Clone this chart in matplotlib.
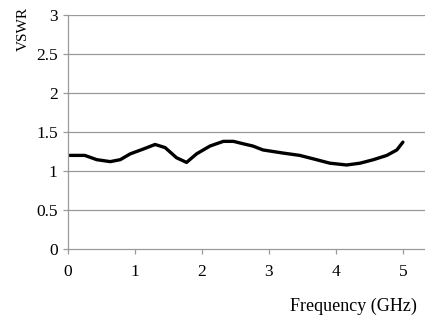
import matplotlib
matplotlib.use('Agg')
import matplotlib.pyplot as plt

# VSWR
freq = [0.03, 0.25, 0.43, 0.63, 0.78, 0.93, 1.12, 1.30, 1.45, 1.62, 1.77,
        1.92, 2.12, 2.32, 2.47, 2.61, 2.76, 2.91, 3.21, 3.46, 3.71, 3.91,
        4.16, 4.36, 4.56, 4.76, 4.91, 5.0]
vswr = [1.20, 1.20, 1.145, 1.12, 1.145, 1.22, 1.28, 1.34, 1.30, 1.17, 1.11,
        1.22, 1.32, 1.38, 1.38, 1.35, 1.32, 1.27, 1.23, 1.20, 1.145, 1.10,
        1.077, 1.10, 1.145, 1.20, 1.27, 1.37]

x_ticks = [0, 1, 2, 3, 4, 5]
y_ticks = [0, 0.5, 1, 1.5, 2, 2.5, 3]
y_labels = ['0', '0.5', '1', '1.5', '2', '2.5', '3']

plt.rcParams['font.family'] = 'Liberation Serif'

fig = plt.figure(figsize=(4.25, 3.2), dpi=100)
ax = fig.add_axes([0.16, 0.222, 0.84, 0.731])

ax.plot(freq, vswr, color='black', linewidth=2.4, solid_capstyle='round',
        solid_joinstyle='round')

ax.set_xlim(0, 5.33)
ax.set_ylim(0, 3)
ax.set_xticks(x_ticks)
ax.set_yticks(y_ticks)
ax.set_yticklabels(y_labels)

for y in y_ticks[1:]:
    ax.axhline(y, color='#9a9a9a', linewidth=0.9, zorder=0)

for s in ['top', 'right']:
    ax.spines[s].set_visible(False)
for s in ['left', 'bottom']:
    ax.spines[s].set_color('#9a9a9a')
    ax.spines[s].set_linewidth(0.9)

ax.tick_params(axis='both', colors='#9a9a9a', length=3.5, width=0.9,
               labelcolor='black', labelsize=12.5)
ax.tick_params(axis='x', pad=7)
ax.tick_params(axis='y', pad=4)

fig.text(0.982, 0.044, 'Frequency (GHz)', ha='right', va='center', fontsize=13)
fig.text(0.054, 0.91, 'VSWR', ha='center', va='center', rotation=90, fontsize=11)

fig.savefig('out.png', dpi=100)
